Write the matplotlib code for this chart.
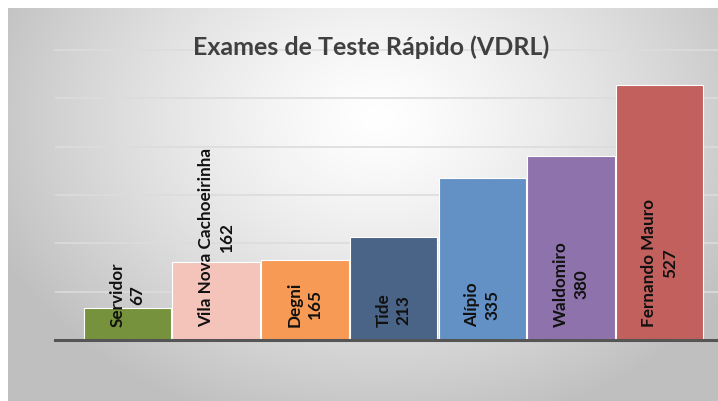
import numpy as np
import matplotlib
matplotlib.use("Agg")
import matplotlib.pyplot as plt

categories = ["Servidor", "Vila Nova Cachoeirinha", "Degni", "Tide", "Alípio", "Waldomiro", "Fernando Mauro"]
values = [67, 162, 165, 213, 335, 380, 527]
colors = ["#76923c", "#f4c4bb", "#f79a55", "#4a6488", "#6391c6", "#8d72ab", "#c2605d"]
title = "Exames de Teste Rápido (VDRL)"

W, H = 718, 401
fig = plt.figure(figsize=(W / 100, H / 100), dpi=100)
fig.patch.set_facecolor("white")

# background gradient panel
bg = fig.add_axes([8 / W, 0, 1 - 8 / W, 1 - 8 / H])
bg.set_axis_off()
yy, xx = np.mgrid[0:393, 0:710]
cx, cy = 370, 110
r = np.sqrt(((xx - cx) / 420.0) ** 2 + ((yy - cy) / 320.0) ** 2)
r = np.clip(r, 0, 1)
v = 1.0 - 0.25 * r ** 1.3
img = np.dstack([v, v, v])
bg.imshow(img, aspect="auto", extent=[0, 1, 0, 1], origin="upper")
bg.set_xlim(0, 1)
bg.set_ylim(0, 1)

ax = fig.add_axes([55 / W, (H - 340) / H, 1 - 55 / W, (340 - 50) / H])
ax.set_facecolor("none")
x = np.arange(len(categories))
ax.bar(x, values, width=0.985, color=colors, edgecolor="white", linewidth=0.8, zorder=3)
ax.set_xlim(-0.817, 6.657)
ax.set_ylim(0, 600)
ax.set_yticks([100, 200, 300, 400, 500, 600])
ax.yaxis.grid(True, color="#dcdcdc", linewidth=1.2, zorder=0)
ax.tick_params(left=False, bottom=False, labelleft=False, labelbottom=False)
for s in ["top", "right", "left"]:
    ax.spines[s].set_visible(False)
ax.spines["bottom"].set_color("#555555")
ax.spines["bottom"].set_linewidth(2.2)
ax.spines["bottom"].set_zorder(4)
ax.yaxis.get_gridlines()[-1].set_clip_on(False)

for xi, cat, val in zip(x, categories, values):
    ax.text(xi, 27, f"{cat}\n{val}", rotation=90, ha="center", va="bottom",
            multialignment="center", fontsize=12.3, fontweight="bold",
            family=["Lato", "DejaVu Sans"], color="#111111", zorder=5,
            linespacing=1.35)

t = fig.text(371 / W, 1 - 47 / H, title, ha="center", va="center", fontsize=18,
             fontweight="bold", family=["Lato", "DejaVu Sans"], color="#404040")

fig.savefig("out.png", dpi=100)
